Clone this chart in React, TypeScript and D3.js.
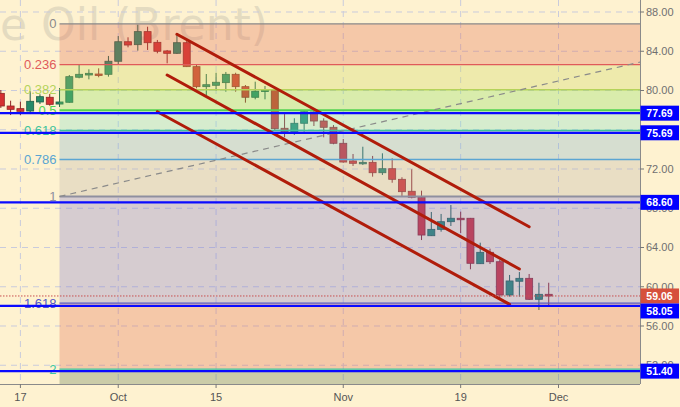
import React from "react";
import * as d3 from "d3";

// ---------- data ----------
const dates = [
  "2018-09-13","2018-09-14","2018-09-17","2018-09-18","2018-09-19","2018-09-20","2018-09-21",
  "2018-09-24","2018-09-25","2018-09-26","2018-09-27","2018-09-28","2018-10-01","2018-10-02",
  "2018-10-03","2018-10-04","2018-10-05","2018-10-08","2018-10-09","2018-10-10","2018-10-11",
  "2018-10-12","2018-10-15","2018-10-16","2018-10-17","2018-10-18","2018-10-19","2018-10-22",
  "2018-10-23","2018-10-24","2018-10-25","2018-10-26","2018-10-29","2018-10-30","2018-10-31",
  "2018-11-01","2018-11-02","2018-11-05","2018-11-06","2018-11-07","2018-11-08","2018-11-09",
  "2018-11-12","2018-11-13","2018-11-14","2018-11-15","2018-11-16","2018-11-19","2018-11-20",
  "2018-11-21","2018-11-22","2018-11-23","2018-11-26","2018-11-27","2018-11-28","2018-11-29",
  "2018-11-30",
];
const open = [
  79.71,78.42,78.15,77.91,78.83,79.31,78.62,78.80,81.35,81.58,81.68,81.65,82.98,84.97,
  84.67,86.00,84.91,84.03,83.79,84.87,82.43,80.39,80.53,80.80,81.65,80.39,79.31,79.92,
  80.05,76.15,75.77,76.66,77.81,76.89,76.25,74.62,72.82,72.54,72.68,71.62,72.03,70.95,
  69.73,69.12,65.20,65.85,66.63,66.98,66.98,62.35,63.51,62.55,59.16,60.56,60.86,58.72,
  59.23,
];
const high = [
  80.05,78.96,78.86,79.95,79.61,79.64,80.25,81.58,82.60,82.16,82.26,83.52,85.55,85.42,
  86.71,86.50,85.15,84.13,85.66,85.04,82.60,81.68,81.81,81.89,81.81,80.56,80.90,80.46,
  80.22,77.60,77.17,78.01,78.01,77.17,76.48,75.06,73.53,74.27,73.33,73.60,73.09,71.16,
  71.97,69.79,67.62,67.42,68.33,67.65,67.01,64.49,63.88,62.73,61.20,61.50,61.30,60.41,
  60.41,
];
const low = [
  78.22,77.50,77.50,77.60,78.62,78.45,78.32,78.76,81.24,81.14,81.35,81.41,82.70,84.40,
  84.06,84.13,83.79,82.77,83.72,82.39,80.22,79.54,79.98,79.88,79.88,78.76,79.10,79.10,
  75.97,75.23,75.47,75.80,76.38,75.23,74.52,72.64,72.31,72.41,71.22,71.39,70.60,69.25,
  69.01,64.76,65.17,65.61,66.19,65.48,61.78,62.32,62.32,58.65,58.99,58.99,58.65,57.63,
  58.14,
];
const close = [
  78.42,78.08,77.88,78.90,79.37,78.59,78.83,81.41,81.65,81.75,81.58,82.98,84.97,84.64,
  86.00,84.87,84.00,83.79,84.87,82.43,80.39,80.59,80.84,81.65,80.39,79.31,79.92,80.05,
  76.11,75.80,76.66,77.84,76.89,76.25,74.62,72.71,72.58,72.68,71.62,72.03,70.95,69.69,
  69.12,65.27,65.85,66.63,66.98,66.87,62.39,63.51,62.55,59.16,60.59,60.86,58.72,59.23,
  59.06,
];

const priceTicks = [88, 84, 80, 76, 72, 68, 64, 60, 56, 52];
const dateTickDates = ["2018-09-17", "2018-10-01", "2018-10-15", "2018-11-01", "2018-11-19", "2018-12-03"];
const dateTickLabels = ["17", "Oct", "15", "Nov", "19", "Dec"];

// Fibonacci retracement
const fibHigh = 86.8;
const fibLow = 69.2;
const fibStartDate = "2018-09-21";
const fibRatios = [0, 0.236, 0.382, 0.5, 0.618, 0.786, 1, 1.618, 2, 2.618];
const fibLabels = ["0", "0.236", "0.382", "0.5", "0.618", "0.786", "1", "1.618", "2"];
const fibLineColors = ["#8a8a8a", "#e05a5a", "#b5d35a", "#52d452", "#3cc39a", "#5aa5d2", "#8f8fa0", "#5556c6", "#3ec8a2"];
const fibZoneColors = ["#e0664b", "#c9d758", "#86de58", "#79dec9", "#79afd0", "#bbafa8", "#7973d0", "#e0664b", "#57734b"];

// Horizontal levels
const levelValues = [77.69, 75.69, 68.6, 58.05, 51.4];
const lastPrice = 59.06;

// Channel lines [startDate, startPrice, endDate, endPrice]
const channelStartDates = ["2018-10-09", "2018-10-08", "2018-10-05"];
const channelStartPrices = [85.73, 81.58, 77.84];
const channelEndDates = ["2018-11-28", "2018-11-27", "2018-11-26"];
const channelEndPrices = [66.12, 61.81, 58.21];

// Dashed trend line
const trendDates = ["2018-09-21", "2018-12-14"];
const trendPrices = [69.2, 83.05];

const title = "Crude Oil (Brent)";

// ---------- helpers ----------
const parse = d3.timeParse("%Y-%m-%d");
const START = parse(dates[0]) as Date;
const tIdx = (s: string) =>
  d3.timeDay.range(START, parse(s) as Date).filter((d) => d.getDay() % 6 !== 0).length;

const W = 680;
const H = 407;
const PR = 640; // plot right
const PB = 384; // plot bottom
const BOX_H = 15;

const x = d3.scaleLinear().domain([2, 57]).range([20.4, 558.5]);
const y = d3.scaleLinear().domain([88, 56]).range([12, 326]);

const RED = "#d53030";
const GREEN = "#268a69";

export default function App() {
  const fibX0 = x(tIdx(fibStartDate));
  const fibY = (r: number) => y(fibHigh - r * (fibHigh - fibLow));
  const sans = "'Liberation Sans', Arial, sans-serif";

  // right-axis value boxes with simple collision avoidance
  const boxes = [
    ...levelValues.map((v) => ({ v, fill: "#0000ff" })),
    { v: lastPrice, fill: "#d6503c" },
  ]
    .map((b) => ({ ...b, top: y(b.v) - BOX_H / 2 }))
    .sort((a, b) => a.top - b.top);
  for (let i = 1; i < boxes.length; i++) {
    const prevBottom = boxes[i - 1].top + BOX_H;
    if (boxes[i].top < prevBottom) boxes[i].top = prevBottom;
  }

  return (
    <div style={{ position: "fixed", left: 0, top: 0 }}>
      <svg width={W} height={H} style={{ display: "block" }}>
        <defs>
          <clipPath id="plot">
            <rect x={0} y={0} width={PR} height={PB} />
          </clipPath>
        </defs>
        <rect x={0} y={0} width={W} height={H} fill="#fef2d0" />

        <g clipPath="url(#plot)">
          {/* watermark */}
          <text x={268} y={40} textAnchor="end" fontFamily="'DejaVu Sans', Verdana, sans-serif"
            fontSize={44} fill="#8c8c8c" opacity={0.22}>{title}</text>

          {/* grid */}
          {priceTicks.map((t) => (
            <line key={"hg" + t} x1={0} x2={PR} y1={y(t)} y2={y(t)} stroke="#c9cbdc" strokeDasharray="6,5" />
          ))}
          {dateTickDates.map((d) => (
            <line key={"vg" + d} x1={x(tIdx(d))} x2={x(tIdx(d))} y1={0} y2={PB} stroke="#c9cbdc" strokeDasharray="6,5" />
          ))}

          {/* candles */}
          {dates.map((d, i) => {
            const cx = x(tIdx(d));
            const up = close[i] >= open[i];
            const col = up ? GREEN : RED;
            const dark = up ? "#1f5e48" : "#8e2424";
            const top = y(Math.max(open[i], close[i]));
            const bot = y(Math.min(open[i], close[i]));
            const h = Math.max(bot - top, 1.5);
            return (
              <g key={d}>
                <line x1={cx} x2={cx} y1={y(high[i])} y2={y(low[i])} stroke={dark} strokeWidth={1} />
                <rect x={cx - 3.5} y={top} width={7} height={h} fill={col} stroke={dark} strokeWidth={0.8} />
              </g>
            );
          })}

          {/* fib zones */}
          {fibZoneColors.map((c, i) => (
            <rect key={"fz" + i} x={fibX0} width={PR - fibX0}
              y={fibY(fibRatios[i])} height={Math.min(fibY(fibRatios[i + 1]), PB) - fibY(fibRatios[i])}
              fill={c} opacity={0.3} />
          ))}
          {fibLabels.map((l, i) => (
            <g key={"fl" + i}>
              <line x1={fibX0} x2={PR} y1={fibY(fibRatios[i])} y2={fibY(fibRatios[i])}
                stroke={fibLineColors[i]} strokeWidth={i === 3 || i === 6 ? 2 : 1.3} />
              <text x={fibX0 - 3} y={fibY(fibRatios[i])} dy="0.35em" textAnchor="end"
                fontFamily={sans} fontSize={13} fill={fibLineColors[i]}>{l}</text>
            </g>
          ))}

          {/* dashed trend line */}
          <line x1={x(tIdx(trendDates[0]))} y1={y(trendPrices[0])} x2={x(tIdx(trendDates[1]))} y2={y(trendPrices[1])}
            stroke="#8a8a8a" strokeWidth={1.2} strokeDasharray="6,5" />

          {/* channel */}
          {channelStartDates.map((d, i) => (
            <line key={"ch" + i} x1={x(tIdx(d))} y1={y(channelStartPrices[i])}
              x2={x(tIdx(channelEndDates[i]))} y2={y(channelEndPrices[i])}
              stroke="#b01c0a" strokeWidth={3} strokeLinecap="round" />
          ))}

          {/* last price dotted line */}
          <line x1={0} x2={PR} y1={y(lastPrice)} y2={y(lastPrice)} stroke="#c85050" strokeWidth={1} strokeDasharray="1.5,1.5" />

          {/* blue levels */}
          {levelValues.map((v) => (
            <line key={"lv" + v} x1={0} x2={PR} y1={y(v)} y2={y(v)} stroke="#0a0aff" strokeWidth={2.2} />
          ))}
        </g>

        {/* axes */}
        <line x1={PR + 0.5} x2={PR + 0.5} y1={0} y2={PB} stroke="#8a8a8a" />
        <line x1={0} x2={PR} y1={PB + 0.5} y2={PB + 0.5} stroke="#8a8a8a" />
        {priceTicks.map((t) => (
          <g key={"pt" + t}>
            <line x1={PR} x2={PR + 4} y1={y(t)} y2={y(t)} stroke="#777" />
            <text x={646} y={y(t)} dy="0.35em" fontFamily={sans} fontSize={11} fill="#707070">{t.toFixed(2)}</text>
          </g>
        ))}
        {dateTickDates.map((d, i) => (
          <g key={"dt" + d}>
            <line x1={x(tIdx(d))} x2={x(tIdx(d))} y1={PB} y2={PB + 4} stroke="#777" />
            <text x={x(tIdx(d))} y={397} dy="0.35em" textAnchor="middle" fontFamily={sans} fontSize={11} fill="#555">
              {dateTickLabels[i]}
            </text>
          </g>
        ))}

        {/* value boxes */}
        {boxes.map((b) => (
          <g key={"lb" + b.v}>
            <rect x={640.5} y={b.top} width={38.5} height={BOX_H} fill={b.fill} />
            <text x={659.5} y={b.top + BOX_H / 2} dy="0.36em" textAnchor="middle" fontFamily={sans} fontSize={10.5}
              fontWeight="bold" fill="#fff">{b.v.toFixed(2)}</text>
          </g>
        ))}
      </svg>
    </div>
  );
}
